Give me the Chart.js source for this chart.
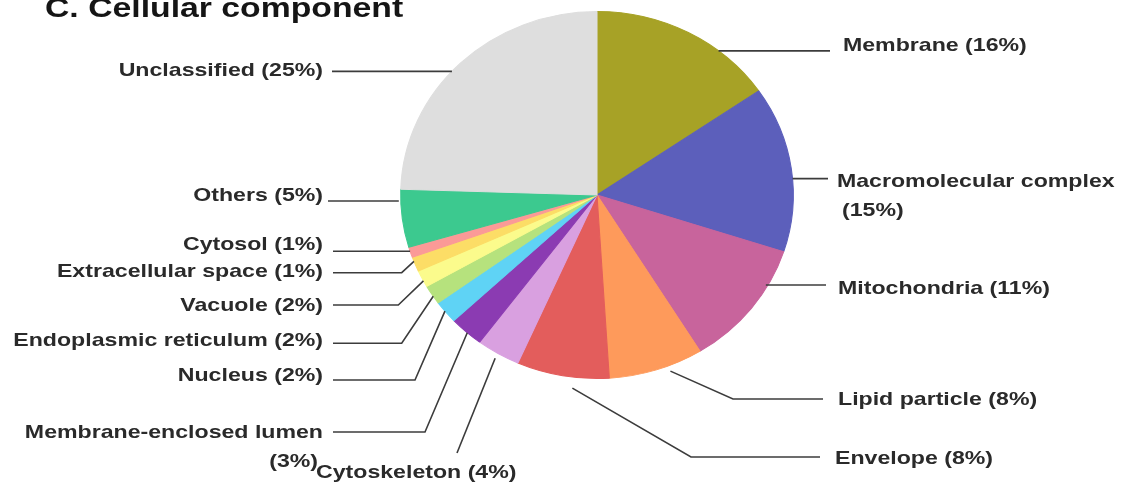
<!DOCTYPE html>
<html>
<head>
<meta charset="utf-8">
<script src="https://cdn.jsdelivr.net/npm/chart.js@4/dist/chart.umd.min.js"></script>
<style>
  html, body { margin: 0; padding: 0; background: #ffffff; }
  canvas { display: block; }
</style>
</head>
<body>
<canvas id="c" width="1122" height="487"></canvas>
<script>
// ---- data ----
const categories = ['Membrane', 'Macromolecular complex', 'Mitochondria', 'Lipid particle', 'Envelope',
  'Cytoskeleton', 'Membrane-enclosed lumen', 'Nucleus', 'Endoplasmic reticulum', 'Vacuole',
  'Extracellular space', 'Cytosol', 'Others', 'Unclassified'];
const shares = [15.4, 14.6, 11.2, 7.8, 7.6, 3.6, 2.8, 2.0, 1.7, 1.5, 1.3, 0.9, 5.1, 24.5];
const percentLabels = [16, 15, 11, 8, 8, 4, 3, 2, 2, 2, 1, 1, 5, 25];
const sliceColors = ['#a7a226', '#5c5fbb', '#c8649c', '#fe9a5b', '#e35d5c', '#d9a0e0', '#8b3bb2',
  '#5fd3f5', '#b6e27d', '#fbfb8c', '#fcdd66', '#fb9a97', '#3cc98f', '#dedede'];
const titleText = 'C. Cellular component';

// ---- layout of the leader labels (positions only) ----
// t: position inside the slice (0..1), k: radius factor for anchor
// elbow: [x,y] or null; endX: where line meets label; text: x, y, align
const labelLayout = [
  { t: 0.69, k: 1.00, elbow: null, endX: 830, tx: 843, ty: 46, align: 'left' },
  { t: 0.56, k: 1.00, elbow: null, endX: 828, tx: 837, ty: 182, align: 'left', wrap: { tx: 842, ty: 211, align: 'left' } },
  { t: 0.29, k: 0.99, elbow: null, endX: 826, tx: 838, ty: 289, align: 'left' },
  { t: 0.37, k: 1.03, elbow: [733, 399], endX: 823, tx: 838, ty: 400, align: 'left' },
  { t: 0.38, k: 1.06, elbow: [691, 457], endX: 820, tx: 835, ty: 459, align: 'left' },
  { t: 0.50, k: 1.03, elbow: [457, 453], endX: null, tx: 316, ty: 473, align: 'left' },
  { t: 0.46, k: 1.00, elbow: [425, 432], endX: 333, tx: 323, ty: 433, align: 'right', wrap: { tx: 318, ty: 462, align: 'right' } },
  { t: 0.55, k: 1.00, elbow: [415, 380], endX: 333, tx: 323, ty: 376, align: 'right' },
  { t: 0.41, k: 1.00, elbow: [401.7, 343.3], endX: 333, tx: 323, ty: 341, align: 'right' },
  { t: 0.37, k: 1.00, elbow: [398.3, 305], endX: 333, tx: 323, ty: 306, align: 'right' },
  { t: 0.70, k: 1.00, elbow: [401.7, 272.7], endX: 333, tx: 323, ty: 272, align: 'right' },
  { t: 0.60, k: 1.00, elbow: null, endX: 333, tx: 323, ty: 245, align: 'right' },
  { t: 0.80, k: 1.01, elbow: null, endX: 328, tx: 323, ty: 196, align: 'right' },
  { t: 0.46, k: 1.00, elbow: null, endX: 332, tx: 323, ty: 71, align: 'right' }
];

const SX = 1.07;       // horizontal stretch of the pie
const TX = 1.25;       // horizontal stretch of the text
const labelFont = 'bold 18.5px "Liberation Sans", Arial, sans-serif';
const titleFont = 'bold 27px "Liberation Sans", Arial, sans-serif';

function drawText(ctx, text, x, y, align, font, color, baseline) {
  ctx.save();
  ctx.translate(x, y);
  ctx.scale(TX, 1);
  ctx.font = font;
  ctx.fillStyle = color;
  ctx.textAlign = align;
  ctx.textBaseline = baseline || 'middle';
  ctx.fillText(text, 0, 0);
  ctx.restore();
}

const ellipsePlugin = {
  id: 'ellipse',
  beforeDatasetsDraw(chart) {
    const arc = chart.getDatasetMeta(0).data[0];
    const ctx = chart.ctx;
    ctx.save();
    ctx.translate(arc.x, 0);
    ctx.scale(SX, 1);
    ctx.translate(-arc.x, 0);
  },
  afterDatasetsDraw(chart) {
    chart.ctx.restore();
  }
};

const leaderPlugin = {
  id: 'leaders',
  afterDraw(chart) {
    const ctx = chart.ctx;
    const arcs = chart.getDatasetMeta(0).data;
    ctx.save();
    ctx.strokeStyle = '#3c3c3c';
    ctx.lineWidth = 1.6;
    arcs.forEach((arc, i) => {
      const L = labelLayout[i];
      const p = arc.getProps(['x', 'y', 'startAngle', 'endAngle', 'outerRadius'], true);
      const a = p.startAngle + L.t * (p.endAngle - p.startAngle);
      const ax = p.x + SX * L.k * p.outerRadius * Math.cos(a);
      const ay = p.y + L.k * p.outerRadius * Math.sin(a);
      ctx.beginPath();
      ctx.moveTo(ax, ay);
      if (L.elbow) {
        ctx.lineTo(L.elbow[0], L.elbow[1]);
        if (L.endX !== null) ctx.lineTo(L.endX, L.elbow[1]);
      } else {
        ctx.lineTo(L.endX, ay);
      }
      ctx.stroke();
      const txt = categories[i] + ' (' + percentLabels[i] + '%)';
      if (L.wrap) {
        drawText(ctx, categories[i], L.tx, L.ty, L.align, labelFont, '#2a2a2a');
        drawText(ctx, '(' + percentLabels[i] + '%)', L.wrap.tx, L.wrap.ty, L.wrap.align, labelFont, '#2a2a2a');
      } else {
        drawText(ctx, txt, L.tx, L.ty, L.align, labelFont, '#2a2a2a');
      }
    });
    drawText(ctx, titleText, 45, 17, 'left', titleFont, '#151515', 'alphabetic');
    ctx.restore();
  }
};

new Chart(document.getElementById('c'), {
  type: 'pie',
  data: {
    labels: categories,
    datasets: [{
      data: shares,
      backgroundColor: sliceColors,
      borderColor: sliceColors,
      borderWidth: 1
    }]
  },
  options: {
    responsive: false,
    animation: false,
    events: [],
    layout: { padding: { top: 11, bottom: 108, left: 300, right: 228 } },
    plugins: {
      legend: { display: false },
      tooltip: { enabled: false },
      title: { display: false }
    }
  },
  plugins: [ellipsePlugin, leaderPlugin]
});
</script>
</body>
</html>
